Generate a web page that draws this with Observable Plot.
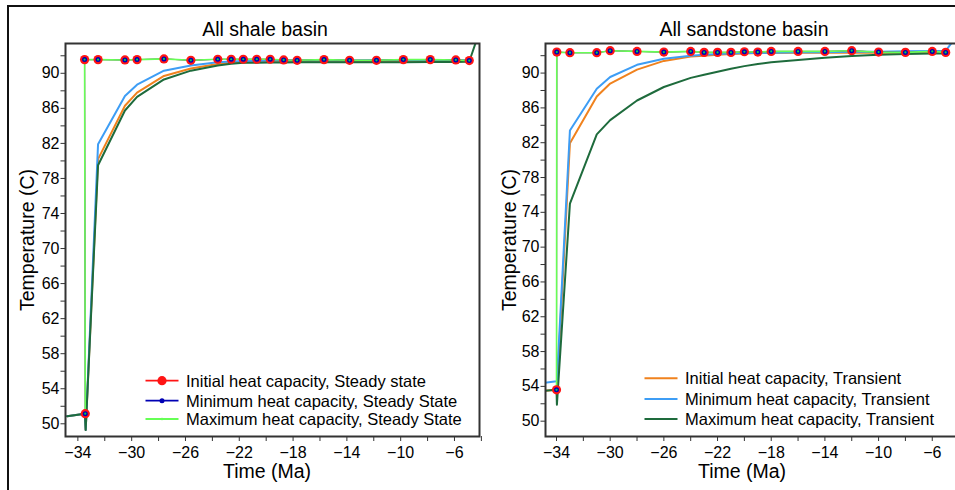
<!DOCTYPE html>
<html><head><meta charset="utf-8">
<script src="https://cdn.jsdelivr.net/npm/d3@7"></script>
<script src="https://cdn.jsdelivr.net/npm/@observablehq/plot@0.6"></script>
<style>
body{margin:0;background:#fff;overflow:hidden}
#root{position:relative;width:955px;height:490px;overflow:hidden;font-family:"Liberation Sans",Arial,sans-serif;background:#fff}
.panel{position:absolute;top:0}
#border{position:absolute;left:7px;top:5px;width:1000px;height:1000px;border-left:2px solid #111;border-top:2px solid #111;box-sizing:border-box}
#overlay{position:absolute;left:0;top:0}
</style></head><body><div id="root"><div id="border"></div></div>
<script>
// ---------- data: All shale basin ----------
const shaleSSTime = [-33.45, -33.5, -32.5, -30.5, -29.6, -27.6, -25.6, -23.6, -22.6, -21.7, -20.7, -19.7, -18.7, -17.7, -15.7, -13.8, -11.8, -9.8, -7.8, -5.9, -4.9];
const shaleSS     = [51.15, 91.56, 91.56, 91.52, 91.56, 91.64, 91.48, 91.60, 91.60, 91.60, 91.60, 91.60, 91.52, 91.48, 91.56, 91.48, 91.48, 91.56, 91.56, 91.52, 91.45];
const shaleTrTime = [-34.8, -33.48, -33.42, -32.5, -30.5, -29.6, -27.6, -25.6, -23.6, -22.6, -21.7, -20.7, -19.7, -18.7, -17.7, -15.7, -13.8, -11.8, -9.8, -7.8, -5.9, -4.9, -4.4];
const shaleInitTr = [50.87, 51.15, 49.3, 80.2, 86.3, 87.8, 89.7, 90.55, 91.05, 91.2, 91.25, 91.3, 91.3, 91.3, 91.3, 91.3, 91.3, 91.3, 91.3, 91.35, 91.35, 91.35, null];
const shaleMinTr  = [50.87, 51.15, 49.3, 81.9, 87.4, 88.7, 90.3, 90.9, 91.25, 91.35, 91.4, 91.4, 91.45, 91.45, 91.45, 91.45, 91.45, 91.5, 91.5, 91.5, 91.5, 91.5, null];
const shaleMaxTr  = [50.87, 51.15, 49.3, 79.5, 85.75, 87.3, 89.3, 90.3, 90.9, 91.1, 91.2, 91.2, 91.22, 91.22, 91.25, 91.25, 91.25, 91.25, 91.25, 91.28, 91.3, 91.35, 93.6];

// ---------- data: All sandstone basin ----------
const sandSSTime = [-34, -33.98, -33, -31, -30, -28, -26, -24, -23, -22, -21, -20, -19, -18, -16, -14, -12, -10, -8, -6, -5];
const sandSS     = [53.6, 92.41, 92.34, 92.34, 92.57, 92.49, 92.41, 92.49, 92.38, 92.38, 92.38, 92.45, 92.41, 92.49, 92.49, 92.49, 92.57, 92.41, 92.38, 92.49, 92.38];
const sandTrTime = [-34.9, -34, -33.97, -33, -31, -30, -28, -26, -24, -23, -22, -21, -20, -19, -18, -16, -14, -12, -10, -8, -6, -5, -4.4];
const sandInitTr = [53.5, 53.6, 53.6, 81.95, 87.3, 88.8, 90.4, 91.4, 91.9, 92.0, 92.1, 92.2, 92.25, 92.3, 92.3, 92.35, 92.35, 92.35, 92.35, 92.35, 92.35, 92.35, null];
const sandMinTr  = [54.4, 54.6, 54.6, 83.4, 88.2, 89.55, 90.95, 91.65, 92.0, 92.1, 92.2, 92.25, 92.3, 92.3, 92.35, 92.4, 92.4, 92.45, 92.45, 92.5, 92.55, 92.55, 93.8];
const sandMaxTr  = [53.5, 53.6, 51.9, 75.0, 82.95, 84.6, 86.85, 88.4, 89.45, 89.8, 90.15, 90.5, 90.8, 91.05, 91.25, 91.5, 91.75, 91.95, 92.1, 92.2, 92.25, 92.25, null];

// ---------- ticks & labels ----------
const xMajor = [-34, -30, -26, -22, -18, -14, -10, -6];
const xMinor = [-32, -28, -24, -20, -16, -12, -8, -4];
const yMajor = [50, 54, 58, 62, 66, 70, 74, 78, 82, 86, 90];
const yMinor = [52, 56, 60, 64, 68, 72, 76, 80, 84, 88, 92];
const ssLegend = ["Initial heat capacity, Steady state", "Minimum heat capacity, Steady State", "Maximum heat capacity, Steady State"];
const trLegend = ["Initial heat capacity, Transient", "Minimum heat capacity, Transient", "Maximum heat capacity, Transient"];

const C = {orange: "#f0821e", lblue: "#3d9df5", dgreen: "#1e6b3c", lgreen: "#66ff55", red: "#ff1414", blue: "#0000b4", center: "#00d84a"};

const font = '"Liberation Sans", Arial, sans-serif';
function panel(o) {
  const tr = o.trTime.map((t, i) => ({t, init: o.init[i], min: o.min[i], max: o.max[i]}));
  const ss = o.ssTime.map((t, i) => ({t, v: o.ss[i]}));
  return Plot.plot({
    width: 482, height: 490,
    marginLeft: 65, marginRight: 3, marginTop: 43, marginBottom: 54,
    style: {fontFamily: font, fontSize: "16px", color: "#000", background: "transparent", overflow: "visible"},
    x: {domain: o.xDomain, label: null},
    y: {domain: o.yDomain, label: null},
    marks: [
      Plot.axisX(xMinor, {tickSize: 5, text: null, stroke: "#333"}),
      Plot.axisX(xMajor, {tickSize: 5, tickPadding: 5, stroke: "#333", fontSize: 16}),
      Plot.axisY(yMinor, {tickSize: 4.5, text: null, stroke: "#333"}),
      Plot.axisY(yMajor, {tickSize: 4.5, tickPadding: 1.5, stroke: "#333", fontSize: 16}),
      Plot.line(tr, {x: "t", y: "init", stroke: C.orange, strokeWidth: 2, clip: true}),
      Plot.line(tr, {x: "t", y: "min", stroke: C.lblue, strokeWidth: 2, clip: true}),
      Plot.line(tr, {x: "t", y: "max", stroke: C.dgreen, strokeWidth: 2, clip: true}),
      Plot.line(ss, {x: "t", y: "v", stroke: C.red, strokeWidth: 0.8, clip: true}),
      Plot.line(ss, {x: "t", y: "v", stroke: C.blue, strokeWidth: 0.8, clip: true}),
      Plot.line(ss, {x: "t", y: "v", stroke: C.lgreen, strokeWidth: 1.6, clip: true}),
      Plot.dot(ss, {x: "t", y: "v", r: 4.6, fill: C.red}),
      Plot.dot(ss, {x: "t", y: "v", r: 2.5, fill: C.blue}),
      Plot.dot(ss, {x: "t", y: "v", r: 1.1, fill: C.center}),
      Plot.frame({stroke: "#333", strokeWidth: 2})
    ]
  });
}

const root = document.getElementById("root");
const left = panel({xDomain: [-34.92, -4.14], yDomain: [48.55, 93.4], trTime: shaleTrTime, init: shaleInitTr, min: shaleMinTr, max: shaleMaxTr, ssTime: shaleSSTime, ss: shaleSS});
left.classList.add("panel"); left.style.left = "0px";
root.appendChild(left);
const right = panel({xDomain: [-34.82, -3.97], yDomain: [48.24, 93.4], trTime: sandTrTime, init: sandInitTr, min: sandMinTr, max: sandMaxTr, ssTime: sandSSTime, ss: sandSS});
right.classList.add("panel"); right.style.left = "480px";
root.appendChild(right);

// overlay: titles, axis labels, legends
const NS = "http://www.w3.org/2000/svg";
const ov = document.createElementNS(NS, "svg");
ov.setAttribute("id", "overlay"); ov.setAttribute("width", 955); ov.setAttribute("height", 490);
ov.style.fontFamily = font;
root.appendChild(ov);
function txt(s, x, y, size, opts = {}) {
  const t = document.createElementNS(NS, "text");
  t.textContent = s;
  t.setAttribute("x", x); t.setAttribute("y", y);
  t.setAttribute("font-size", size);
  t.setAttribute("fill", "#000");
  if (opts.anchor) t.setAttribute("text-anchor", opts.anchor);
  if (opts.baseline) t.setAttribute("dominant-baseline", opts.baseline);
  if (opts.rotate) t.setAttribute("transform", `rotate(-90 ${x} ${y})`);
  ov.appendChild(t);
}
function el(name, attrs) {
  const e = document.createElementNS(NS, name);
  for (const k in attrs) e.setAttribute(k, attrs[k]);
  ov.appendChild(e);
}
txt("All shale basin", 265, 36, 19.5, {anchor: "middle"});
txt("All sandstone basin", 744, 36, 19.5, {anchor: "middle"});
txt("Time (Ma)", 267, 478, 19.5, {anchor: "middle"});
txt("Time (Ma)", 742, 478, 19.5, {anchor: "middle"});
txt("Temperature (C)", 34, 240, 19.5, {anchor: "middle", rotate: true});
txt("Temperature (C)", 516, 240, 19.5, {anchor: "middle", rotate: true});

// legend left (steady state)
const ssCols = [C.red, C.blue, C.lgreen], ssR = [4.6, 2.5, 1.3];
[380.7, 400.7, 419].forEach((y, i) => {
  el("line", {x1: 145.5, x2: 178.5, y1: y, y2: y, stroke: ssCols[i], "stroke-width": 1.8});
  el("circle", {cx: 162, cy: y, r: ssR[i], fill: ssCols[i]});
  txt(ssLegend[i], 186, y, 16.5, {baseline: "central"});
});
// legend right (transient)
const trCols = [C.orange, C.lblue, C.dgreen];
[378.3, 399, 419].forEach((y, i) => {
  el("line", {x1: 644.5, x2: 677.5, y1: y, y2: y, stroke: trCols[i], "stroke-width": 2});
  txt(trLegend[i], 685, y, 16.5, {baseline: "central"});
});
</script></body></html>
